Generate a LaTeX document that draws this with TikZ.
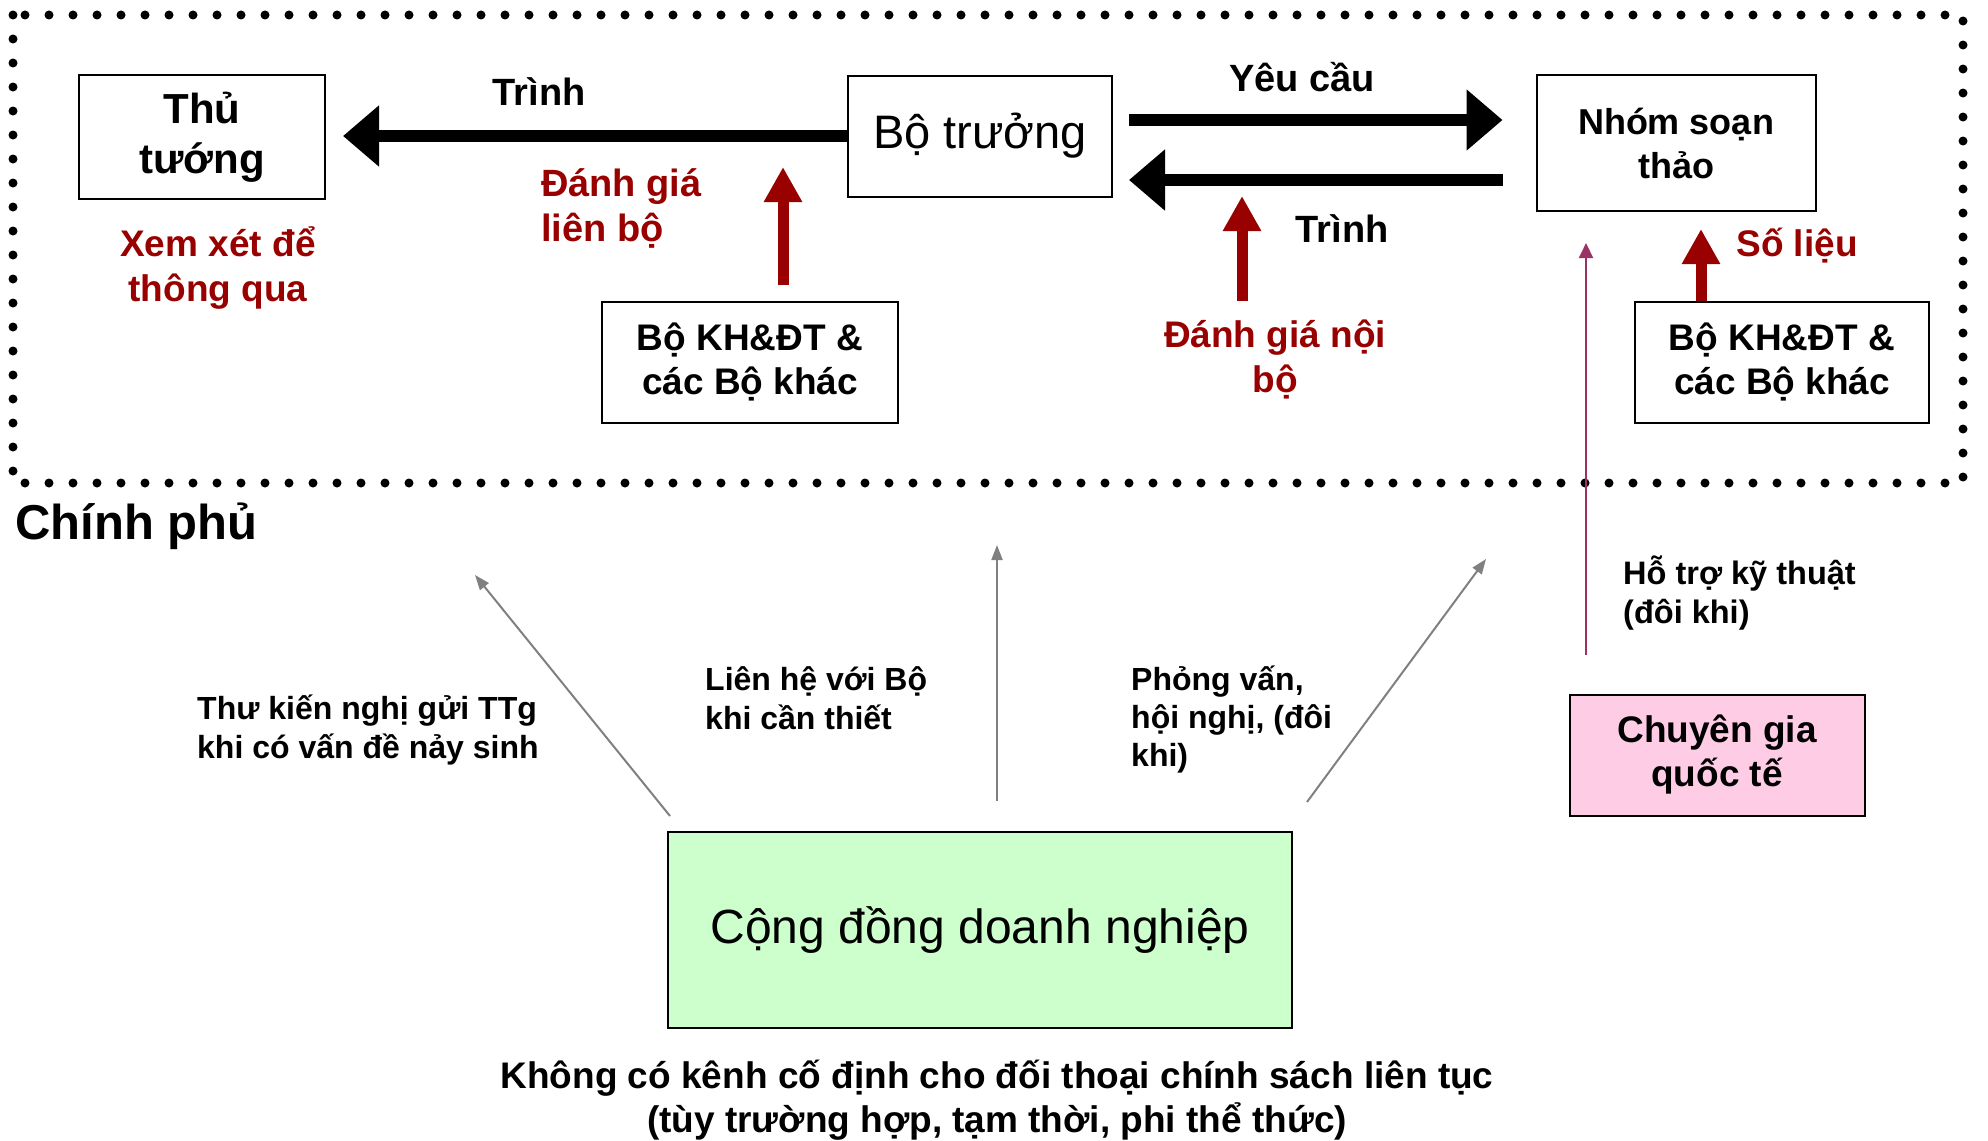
\documentclass[tikz,border=0pt]{standalone}
\usepackage{fontspec}
\setmainfont{Liberation Sans}
\usetikzlibrary{arrows.meta}
\definecolor{dred}{HTML}{990000}
\definecolor{mauve}{HTML}{993366}
\definecolor{pinkfill}{HTML}{FFCCE5}
\definecolor{greenfill}{HTML}{CCFFCC}
\newcommand{\fsz}[2]{\fontsize{#1}{#2}\selectfont}
\tikzset{
	box/.style={draw, line width=2pt, inner sep=0pt, align=center, minimum height=121pt, font=\bfseries\fsz{37}{44}},
	blacklbl/.style={inner sep=0pt, font=\bfseries\fsz{38}{45}},
	redlbl/.style={inner sep=0pt, text=dred, font=\bfseries\fsz{37}{45}},
	smalllbl/.style={inner sep=0pt, anchor=west, align=left, font=\bfseries\fsz{32}{39}},
	govborder/.style={line width=9pt, line cap=round, dash pattern=on 0pt off 24pt},
	bigarrow/.style={line width=12pt, -{Triangle[length=36pt,width=59pt]}},
	redarrow/.style={dred, line width=11pt, -{Triangle[length=35pt,width=36pt]}},
	mauvearrow/.style={mauve, line width=2pt, -{Triangle[length=15pt,width=14pt]}},
	grayarrow/.style={gray, line width=2pt, -{Triangle[length=15pt,width=11pt]}}
}
\begin{document}
\begin{tikzpicture}[x=1pt,y=-1pt]
	\useasboundingbox (0,0) rectangle (1988,1140);
	% chinh phu
	\draw[govborder] (13,15) rectangle (1963,483);
	\node[anchor=west, inner sep=0pt, font=\bfseries\fsz{49}{60}] (chinhphu) at (15,526) {Chính phủ};
	% boxes
	\node[box, minimum width=246pt, minimum height=124pt, font=\bfseries\fsz{42}{50}] (thu) at (202,137) {Thủ\\tướng};
	\node[box, minimum width=264pt, font=\fsz{47}{56}] (botruong) at (980,136) {Bộ trưởng};
	\node[box, minimum width=279pt, minimum height=136pt, font=\bfseries\fsz{36}{44}] (nhom) at (1676,143) {Nhóm soạn\\thảo};
	\node[box, minimum width=296pt] (khdtL) at (750,362) {Bộ KH\&ĐT \&\\các Bộ khác};
	\node[box, minimum width=294pt] (khdtR) at (1782,362) {Bộ KH\&ĐT \&\\các Bộ khác};
	\node[box, minimum width=295pt, fill=pinkfill] (chuyengia) at (1717,755) {Chuyên gia\\quốc tế};
	\node[box, minimum width=624pt, minimum height=196pt, fill=greenfill, font=\fsz{48}{58}] (congdong) at (980,930) {Cộng đồng doanh nghiệp};
	% arrows
	\coordinate (yc) at (0,120);
	\coordinate (tc) at (0,180);
	\draw[bigarrow, shorten >=17pt] (botruong.west) -- (thu.east |- botruong.west);
	\draw[bigarrow, shorten <=16pt, shorten >=33pt] (botruong.east |- yc) -- (nhom.west |- yc);
	\draw[bigarrow, shorten <=33pt, shorten >=16pt] (nhom.west |- tc) -- (botruong.east |- tc);
	\coordinate (dgL) at (783,167);
	\coordinate (dgM) at (1242,196);
	\coordinate (dgR) at (1701,0);
	\draw[redarrow, shorten <=16pt] (khdtL.north -| dgL) -- (dgL);
	\draw[redarrow] (dgM |- khdtL.north) -- (dgM);
	\draw[redarrow, shorten >=17pt] (khdtR.north -| dgR) -- (nhom.south -| dgR);
	\coordinate (hx) at (1586,0);
	\draw[mauvearrow, shorten <=39pt, shorten >=31pt] (chuyengia.north -| hx) -- (nhom.south -| hx);
	\coordinate (g1s) at (670,816);
	\coordinate (g1t) at (475,575);
	\coordinate (g2s) at (997,801);
	\coordinate (g2t) at (997,545);
	\coordinate (g3s) at (1307,802);
	\coordinate (g3t) at (1486,559);
	\foreach \s/\t in {g1s/g1t, g2s/g2t, g3s/g3t} {
		\draw[grayarrow] (\s) -- (\t);
	}
	% labels
	\node[blacklbl] (trinhA) at (539,92) {Trình};
	\node[blacklbl] (yeucau) at (1302,77) {Yêu cầu};
	\node[blacklbl] (trinhB) at (1342,229) {Trình};
	\node[redlbl, align=center] (xemxet) at (218,268) {Xem xét để\\thông qua};
	\node[redlbl, align=left, anchor=west, font=\bfseries\fsz{38}{45}] (dglienbo) at (541,208) {Đánh giá\\liên bộ};
	\node[redlbl, align=center] (dgnoibo) at (1275,359) {Đánh giá nội\\bộ};
	\node[redlbl] (solieu) at (1797,246) {Số liệu};
	\node[smalllbl] (thukn) at (197,730) {Thư kiến nghị gửi TTg\\khi có vấn đề nảy sinh};
	\node[smalllbl] (lienhe) at (705,698) {Liên hệ với Bộ\\khi cần thiết};
	\node[smalllbl, font=\bfseries\fsz{32}{38}] (phongvan) at (1131,720) {Phỏng vấn,\\hội nghị, (đôi\\khi)};
	\node[smalllbl, font=\bfseries\fsz{32.5}{39}] (hotro) at (1623,593) {Hỗ trợ kỹ thuật\\(đôi khi)};
	\node[inner sep=0pt, align=center, font=\bfseries\fsz{37}{44}] (ghichu) at (997,1100) {Không có kênh cố định cho đối thoại chính sách liên tục\\(tùy trường hợp, tạm thời, phi thể thức)};
\end{tikzpicture}
\end{document}
